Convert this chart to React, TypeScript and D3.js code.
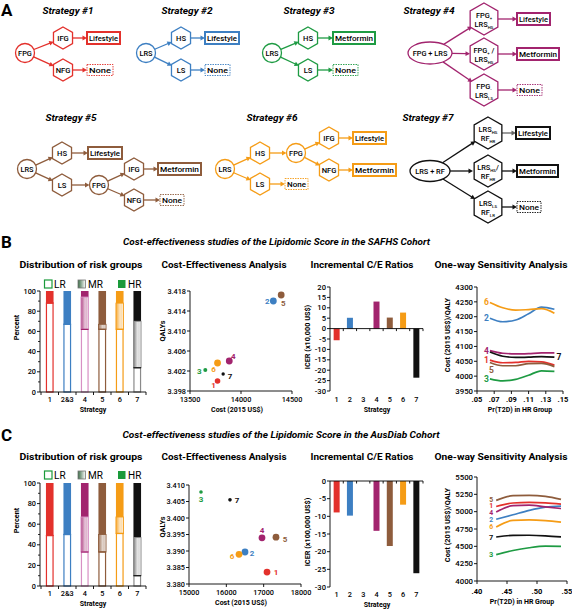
import React from 'react';
import * as d3 from 'd3';

const FONT = "Roboto, 'Liberation Sans', Arial, sans-serif";

// ---------- shared categories ----------
const stratNames = ['1', '2', '3', '4', '5', '6', '7'];
const stratColors = ['#e3312c', '#3d7fc2', '#1e9b43', '#a2246e', '#8e5c3c', '#f59c16', '#111111'];

// ---------- distribution of risk groups (percent) ----------
const barCats = ['1', '2&3', '4', '5', '6', '7'];
const barCatColors = ['#e3312c', '#3d7fc2', '#a2246e', '#8e5c3c', '#f59c16', '#111111'];
const barCatOutline = ['#e3312c', '#3d7fc2', '#d890c4', '#8e5c3c', '#f59c16', '#8a8a8a'];
const safhsLR = [88, 67, 62, 62, 62, 24];
const safhsMR = [0, 0, 32, 5, 26, 46];
const safhsHR = [12, 33, 6, 33, 12, 30];
const ausLR = [49, 50, 33, 33, 51, 10];
const ausMR = [0, 0, 34, 17, 16, 37];
const ausHR = [51, 50, 33, 50, 33, 53];
const barTicks = [0, 20, 40, 60, 80, 100];

// ---------- cost-effectiveness (cost US$, QALYs) ----------
const safhsCost = [13770, 14317, 13650, 13885, 14394, 13770, 13825];
const safhsQaly = [3.4000, 3.4160, 3.4022, 3.4040, 3.4172, 3.4036, 3.4014];
const ausCost = [17090, 16500, 15321, 16955, 17330, 16340, 16098];
const ausQaly = [3.3836, 3.3897, 3.4079, 3.3940, 3.3942, 3.3890, 3.4055];
const safhsCostTicks = [13500, 14000, 14500];
const safhsQalyTicks = [3.398, 3.402, 3.406, 3.410, 3.414, 3.418];
const ausCostTicks = [15000, 16000, 17000, 18000];
const ausQalyTicks = [3.380, 3.385, 3.390, 3.395, 3.400, 3.405, 3.410];

// ---------- ICER ----------
const safhsIcer = [-5.6, 5.2, null, 13.0, 5.3, 7.7, -23.6];
const ausIcer = [-8.9, -9.8, null, -14.1, -18.4, -6.7, -26.1];
const safhsIcerTicks = [20, 15, 10, 5, 0, -5, -10, -15, -20, -25, -30];
const ausIcerTicks = [0, -5, -10, -15, -20, -25, -30];

// ---------- one-way sensitivity ----------
const safhsPr = [0.065, 0.08, 0.095, 0.11, 0.125, 0.14];
const safhsSens = [
  [4054, 4045, 4046, 4050, 4048, 4037], // 1
  [4195, 4183, 4189, 4210, 4232, 4225], // 2
  [3991, 3984, 3989, 4003, 4018, 4016], // 3
  [4086, 4077, 4075, 4076, 4078, 4078], // 4
  [4046, 4035, 4035, 4042, 4043, 4032], // 5
  [4248, 4230, 4222, 4224, 4227, 4212], // 6
  [4081, 4067, 4063, 4064, 4066, 4064], // 7
];
const ausPr = [0.432, 0.46, 0.487, 0.514, 0.54];
const ausSens = [
  [5075, 5125, 5135, 5128, 5110], // 1
  [4890, 4955, 5018, 5065, 5080], // 2
  [4380, 4440, 4480, 4502, 4500], // 3
  [4995, 5088, 5095, 5068, 5045], // 4
  [5163, 5230, 5235, 5220, 5178], // 5
  [4778, 4875, 4882, 4872, 4850], // 6
  [4635, 4658, 4660, 4652, 4636], // 7
];
const safhsPrTicks = [0.05, 0.07, 0.09, 0.11, 0.13, 0.15];
const safhsSensTicks = [3950, 4000, 4050, 4100, 4150, 4200, 4250, 4300];
const ausPrTicks = [0.40, 0.45, 0.50, 0.55];
const ausSensTicks = [4000, 4250, 4500, 4750, 5000, 5250, 5500];

// ---------------- diagram helpers ----------------
type P = { x: number; y: number };

function Arrow({ a, b, color, s = 0, e = 0, w = 1.3 }: any) {
  const dx = b.x - a.x, dy = b.y - a.y;
  const L = Math.hypot(dx, dy);
  const ux = dx / L, uy = dy / L;
  let so = 0;
  if (typeof s === 'number') so = s;
  else so = 1 / Math.sqrt((ux / s.rx) ** 2 + (uy / s.ry) ** 2);
  const sx = a.x + ux * so, sy = a.y + uy * so;
  const ex = b.x - ux * e, ey = b.y - uy * e;
  const hl = 4.5, hw = 2.4;
  const bx = ex - ux * hl, by = ey - uy * hl;
  return (
    <g>
      <line x1={sx} y1={sy} x2={bx + ux * 0.5} y2={by + uy * 0.5} stroke={color} strokeWidth={w} />
      <polygon points={`${ex},${ey} ${bx - uy * hw},${by + ux * hw} ${bx + uy * hw},${by - ux * hw}`} fill={color} />
    </g>
  );
}

function Circ({ p, label, color, r = 9.5 }: any) {
  return (
    <g>
      <circle cx={p.x} cy={p.y} r={r} fill="#fff" stroke={color} strokeWidth={1.3} />
      <text x={p.x} y={p.y} dy="0.35em" textAnchor="middle" fontSize={7.4} fontWeight={500}>{label}</text>
    </g>
  );
}

function hexPts(cx: number, cy: number, r: number) {
  return d3.range(6).map((i) => {
    const a = (Math.PI / 180) * (60 * i - 90);
    return `${cx + r * Math.cos(a)},${cy + r * Math.sin(a)}`;
  }).join(' ');
}

function Hex({ p, label, color, r = 11 }: any) {
  return (
    <g>
      <polygon points={hexPts(p.x, p.y, r)} fill="#fff" stroke={color} strokeWidth={1.3} />
      {label && <text x={p.x} y={p.y} dy="0.35em" textAnchor="middle" fontSize={7.6} fontWeight={500}>{label}</text>}
    </g>
  );
}

function SubText({ x, y, main, sub, tail }: any) {
  return (
    <text x={x} y={y} textAnchor="middle" fontSize={7.4} fontWeight={500}>
      {main}
      <tspan fontSize={4.3} dy={2}>{sub}</tspan>
      {tail && <tspan dy={-2}>{tail}</tspan>}
    </text>
  );
}

function BigHex({ p, color, l1, l2 }: any) {
  return (
    <g>
      <polygon points={hexPts(p.x, p.y, 16)} fill="#fff" stroke={color} strokeWidth={1.3} />
      <SubText x={p.x} y={p.y - 1.5} main={l1[0]} sub={l1[1]} tail={l1[2]} />
      <SubText x={p.x} y={p.y + 8} main={l2[0]} sub={l2[1]} tail={l2[2]} />
    </g>
  );
}

function Box({ x, y, w, h, label, color, dashed }: any) {
  return (
    <g>
      <rect x={x} y={y} width={w} height={h} fill="#fff" stroke={color}
        strokeWidth={dashed ? 0.9 : 2} strokeDasharray={dashed ? '1.5,1' : undefined} />
      <text x={x + w / 2} y={y + h / 2} dy="0.35em" textAnchor="middle" fontSize={7.8} fontWeight={500}
        textLength={w - 4} lengthAdjust="spacingAndGlyphs">{label}</text>
    </g>
  );
}

function Ell({ p, rx, ry, label, color }: any) {
  return (
    <g>
      <ellipse cx={p.x} cy={p.y} rx={rx} ry={ry} fill="#fff" stroke={color} strokeWidth={1.3} />
      <text x={p.x} y={p.y} dy="0.35em" textAnchor="middle" fontSize={7.4} fontWeight={500}>{label}</text>
    </g>
  );
}

function STitle({ x, y, n }: any) {
  return (
    <text x={x} y={y} textAnchor="middle" fontSize={8.5} fontWeight="bold" fontStyle="italic"
      textLength={51} lengthAdjust="spacingAndGlyphs">{`Strategy #${n}`}</text>
  );
}

const pt = (x: number, y: number): P => ({ x, y });

function PanelA() {
  const [c1, c2, c3, c4, c5, c6, c7] = stratColors;
  const s1 = { a: pt(25, 53), h1: pt(63, 38), h2: pt(63, 70) };
  const s2 = { a: pt(146, 53), h1: pt(181, 38), h2: pt(181, 70) };
  const s3 = { a: pt(272, 53), h1: pt(308, 38), h2: pt(308, 70) };
  const s4 = { a: pt(430, 53), h1: pt(484, 19), h2: pt(484, 54), h3: pt(484, 90) };
  const s5 = { a: pt(27, 169), hs: pt(62, 153), ls: pt(62, 185), f: pt(99, 185), i: pt(134, 169), n: pt(134, 200) };
  const s6 = { a: pt(225, 169), hs: pt(260, 153), ls: pt(260, 184), f: pt(296, 153), i: pt(329, 138), n: pt(329, 170) };
  const s7 = { a: pt(430, 171), h1: pt(488, 133), h2: pt(488, 171), h3: pt(488, 207) };
  const ell4 = { rx: 22, ry: 11 };
  const ell7 = { rx: 20, ry: 10.5 };
  return (
    <g>
      <text x={1} y={16} fontSize={17} fontWeight="bold">A</text>
      <STitle x={68} y={14} n={1} />
      <STitle x={187} y={14} n={2} />
      <STitle x={309} y={14} n={3} />
      <STitle x={429} y={14} n={4} />
      <STitle x={71} y={121} n={5} />
      <STitle x={272} y={121} n={6} />
      <STitle x={428} y={121} n={7} />

      {/* Strategy 1 */}
      <Arrow a={s1.a} b={s1.h1} color={c1} s={9.5} e={10} />
      <Arrow a={s1.a} b={s1.h2} color={c1} s={9.5} e={10} />
      <Arrow a={s1.h1} b={pt(87, 38)} color={c1} s={9.5} />
      <Arrow a={s1.h2} b={pt(87, 70)} color={c1} s={9.5} />
      <Circ p={s1.a} label="FPG" color={c1} />
      <Hex p={s1.h1} label="IFG" color={c1} />
      <Hex p={s1.h2} label="NFG" color={c1} />
      <Box x={87} y={32} w={33} h={12} label="Lifestyle" color={c1} />
      <Box x={87} y={64.5} w={26} h={11} label="None" color={c1} dashed />

      {/* Strategy 2 */}
      <Arrow a={s2.a} b={s2.h1} color={c2} s={9.5} e={10} />
      <Arrow a={s2.a} b={s2.h2} color={c2} s={9.5} e={10} />
      <Arrow a={s2.h1} b={pt(205, 38)} color={c2} s={9.5} />
      <Arrow a={s2.h2} b={pt(205, 70)} color={c2} s={9.5} />
      <Circ p={s2.a} label="LRS" color={c2} />
      <Hex p={s2.h1} label="HS" color={c2} />
      <Hex p={s2.h2} label="LS" color={c2} />
      <Box x={205} y={32} w={34} h={12} label="Lifestyle" color={c2} />
      <Box x={205} y={64.5} w={25} h={11} label="None" color={c2} dashed />

      {/* Strategy 3 */}
      <Arrow a={s3.a} b={s3.h1} color={c3} s={9.5} e={10} />
      <Arrow a={s3.a} b={s3.h2} color={c3} s={9.5} e={10} />
      <Arrow a={s3.h1} b={pt(333, 38)} color={c3} s={9.5} />
      <Arrow a={s3.h2} b={pt(333, 70)} color={c3} s={9.5} />
      <Circ p={s3.a} label="LRS" color={c3} />
      <Hex p={s3.h1} label="HS" color={c3} />
      <Hex p={s3.h2} label="LS" color={c3} />
      <Box x={333} y={32} w={42} h={12} label="Metformin" color={c3} />
      <Box x={333} y={64.5} w={25} h={11} label="None" color={c3} dashed />

      {/* Strategy 4 */}
      <Arrow a={s4.a} b={s4.h1} color={c4} s={ell4} e={14} />
      <Arrow a={s4.a} b={s4.h2} color={c4} s={ell4} e={14} />
      <Arrow a={s4.a} b={s4.h3} color={c4} s={ell4} e={14} />
      <Arrow a={s4.h1} b={pt(517, 19)} color={c4} s={14} />
      <Arrow a={s4.h2} b={pt(517, 54)} color={c4} s={14} />
      <Arrow a={s4.h3} b={pt(517, 90)} color={c4} s={14} />
      <Ell p={s4.a} rx={22} ry={11} label="FPG + LRS" color={c4} />
      <BigHex p={s4.h1} color={c4} l1={['FPG', '+']} l2={['LRS', 'HS']} />
      <BigHex p={s4.h2} color={c4} l1={['FPG', '+', ' /']} l2={['LRS', 'HS']} />
      <BigHex p={s4.h3} color={c4} l1={['FPG', '-']} l2={['LRS', 'LS']} />
      <Box x={517} y={13} w={33} h={12} label="Lifestyle" color={c4} />
      <Box x={517} y={48} w={42} h={12} label="Metformin" color={c4} />
      <Box x={517} y={84.5} w={25} h={11} label="None" color={c4} dashed />

      {/* Strategy 5 */}
      <Arrow a={s5.a} b={s5.hs} color={c5} s={9.5} e={10} />
      <Arrow a={s5.a} b={s5.ls} color={c5} s={9.5} e={10} />
      <Arrow a={s5.hs} b={pt(88, 153)} color={c5} s={9.5} />
      <Arrow a={s5.ls} b={s5.f} color={c5} s={9.5} e={9.5} />
      <Arrow a={s5.f} b={s5.i} color={c5} s={9.5} e={10} />
      <Arrow a={s5.f} b={s5.n} color={c5} s={9.5} e={10} />
      <Arrow a={s5.i} b={pt(158, 169)} color={c5} s={9.5} />
      <Arrow a={s5.n} b={pt(160, 200)} color={c5} s={9.5} />
      <Circ p={s5.a} label="LRS" color={c5} />
      <Hex p={s5.hs} label="HS" color={c5} />
      <Hex p={s5.ls} label="LS" color={c5} />
      <Circ p={s5.f} label="FPG" color={c5} />
      <Hex p={s5.i} label="IFG" color={c5} />
      <Hex p={s5.n} label="NFG" color={c5} />
      <Box x={88} y={147} w={34} h={12} label="Lifestyle" color={c5} />
      <Box x={158} y={163} w={43} h={12} label="Metformin" color={c5} />
      <Box x={160} y={194.5} w={24} h={11} label="None" color={c5} dashed />

      {/* Strategy 6 */}
      <Arrow a={s6.a} b={s6.hs} color={c6} s={9.5} e={10} />
      <Arrow a={s6.a} b={s6.ls} color={c6} s={9.5} e={10} />
      <Arrow a={s6.hs} b={s6.f} color={c6} s={9.5} e={9.5} />
      <Arrow a={s6.f} b={s6.i} color={c6} s={9.5} e={10} />
      <Arrow a={s6.f} b={s6.n} color={c6} s={9.5} e={10} />
      <Arrow a={s6.i} b={pt(353, 138)} color={c6} s={9.5} />
      <Arrow a={s6.n} b={pt(353, 170)} color={c6} s={9.5} />
      <Arrow a={s6.ls} b={pt(285, 184)} color={c6} s={9.5} />
      <Circ p={s6.a} label="LRS" color={c6} />
      <Hex p={s6.hs} label="HS" color={c6} />
      <Hex p={s6.ls} label="LS" color={c6} />
      <Circ p={s6.f} label="FPG" color={c6} />
      <Hex p={s6.i} label="IFG" color={c6} />
      <Hex p={s6.n} label="NFG" color={c6} />
      <Box x={353} y={132} w={33} h={12} label="Lifestyle" color={c6} />
      <Box x={353} y={164} w={43} h={12} label="Metformin" color={c6} />
      <Box x={285} y={178.5} w={23} h={11} label="None" color={c6} dashed />

      {/* Strategy 7 */}
      <Arrow a={s7.a} b={s7.h1} color={c7} s={ell7} e={15} />
      <Arrow a={s7.a} b={s7.h2} color={c7} s={ell7} e={15} />
      <Arrow a={s7.a} b={s7.h3} color={c7} s={ell7} e={15} />
      <Arrow a={s7.h1} b={pt(516, 133)} color="#666" s={14} />
      <Arrow a={s7.h2} b={pt(517, 171)} color={c7} s={14} />
      <Arrow a={s7.h3} b={pt(517, 207)} color={c7} s={14} />
      <Ell p={s7.a} rx={20} ry={10.5} label="LRS + RF" color={c7} />
      <BigHex p={s7.h1} color={c7} l1={['LRS', 'HS']} l2={['RF', 'HR']} />
      <BigHex p={s7.h2} color={c7} l1={['LRS', 'HS', '/']} l2={['RF', 'HR']} />
      <BigHex p={s7.h3} color={c7} l1={['LRS', 'LS']} l2={['RF', 'LR']} />
      <Box x={516} y={127} w={34} h={12} label="Lifestyle" color={c7} />
      <Box x={517} y={165} w={41} h={12} label="Metformin" color={c7} />
      <Box x={517} y={201.5} w={24} h={11} label="None" color={c7} dashed />
    </g>
  );
}

// ---------------- chart helpers ----------------
function LeftAxis({ x, scale, ticks, fmt, fs = 7.3, minor = [] as number[] }: any) {
  const [a, b] = scale.range();
  return (
    <g>
      <line x1={x} x2={x} y1={a} y2={b} stroke="#000" strokeWidth={0.9} />
      {ticks.map((t: number) => (
        <g key={t}>
          <line x1={x - 3} x2={x} y1={scale(t)} y2={scale(t)} stroke="#000" strokeWidth={0.9} />
          <text x={x - 4} y={scale(t)} dy="0.35em" textAnchor="end" fontSize={fs} fontWeight={500}>{fmt(t)}</text>
        </g>
      ))}
      {minor.map((t: number) => (
        <line key={'m' + t} x1={x - 2} x2={x} y1={scale(t)} y2={scale(t)} stroke="#000" strokeWidth={0.8} />
      ))}
    </g>
  );
}

function BottomAxis({ y, scale, ticks, fmt, fs = 7.3, labelY, bold = false }: any) {
  const [a, b] = scale.range();
  return (
    <g>
      <line x1={a} x2={b} y1={y} y2={y} stroke="#000" strokeWidth={0.9} />
      {ticks.map((t: number) => (
        <g key={t}>
          <line x1={scale(t)} x2={scale(t)} y1={y} y2={y + 3} stroke="#000" strokeWidth={0.9} />
          <text x={scale(t)} y={labelY} textAnchor="middle" fontSize={fs} fontWeight={bold ? 'bold' : 500}>{fmt(t)}</text>
        </g>
      ))}
    </g>
  );
}

function VLabel({ x, y, text, fs = 7.3 }: any) {
  return (
    <text transform={`translate(${x},${y}) rotate(-90)`} textAnchor="middle" fontSize={fs} fontWeight="bold">{text}</text>
  );
}

function RiskBars({ bottom, top, LR, MR, HR, gid, xLabelY }: any) {
  const x = d3.scaleBand<string>().domain(barCats).range([41, 146]);
  const y = d3.scaleLinear().domain([0, 100]).range([bottom, top]);
  const bw = 7.6;
  return (
    <g>
      {barCats.map((c, i) => {
        const cx = (x(c) as number) + x.bandwidth() / 2;
        const x0 = cx - bw / 2;
        const lr = LR[i], mr = MR[i], hr = HR[i];
        return (
          <g key={c}>
            <rect x={x0} y={y(100)} width={bw} height={y(100 - hr) - y(100)} fill={barCatColors[i]} />
            {mr > 0 && (
              <rect x={x0} y={y(lr + mr)} width={bw} height={y(lr) - y(lr + mr)} fill={`url(#${gid}${i})`}
                stroke={barCatOutline[i]} strokeWidth={0.9} />
            )}
            <rect x={x0 + 0.5} y={y(lr)} width={bw - 1} height={y(0) - y(lr)} fill="#fff"
              stroke={barCatOutline[i]} strokeWidth={1.2} />
            <line x1={x0} x2={x0 + bw} y1={y(lr)} y2={y(lr)} stroke={barCatColors[i]} strokeWidth={1.2} />
          </g>
        );
      })}
      <LeftAxis x={40} scale={y} ticks={barTicks} fmt={(d: number) => String(d)} minor={[10, 30, 50, 70, 90]} />
      <line x1={40} x2={146} y1={bottom} y2={bottom} stroke="#000" strokeWidth={0.9} />
      {d3.range(7).map((k) => (
        <line key={k} x1={41 + k * x.step()} x2={41 + k * x.step()} y1={bottom} y2={bottom + 3} stroke="#000" strokeWidth={0.9} />
      ))}
      {barCats.map((c) => (
        <text key={c} x={(x(c) as number) + x.bandwidth() / 2} y={xLabelY} textAnchor="middle" fontSize={7.3} fontWeight={500}>{c}</text>
      ))}
      <text x={93} y={xLabelY + 10} textAnchor="middle" fontSize={7} fontWeight="bold">Strategy</text>
      <VLabel x={19} y={(top + bottom) / 2 - 14} text="Percent" />
    </g>
  );
}

function CEA({ cost, qaly, xr, yr, xd, yd, xt, yt, yfmt, sizes, offs, xLabelY }: any) {
  const x = d3.scaleLinear().domain(xd).range(xr);
  const y = d3.scaleLinear().domain(yd).range(yr);
  return (
    <g>
      <LeftAxis x={xr[0]} scale={y} ticks={yt} fmt={yfmt} />
      <BottomAxis y={yr[0]} scale={x} ticks={xt} fmt={(d: number) => String(d)} labelY={xLabelY} />
      {stratNames.map((s, i) => (
        <g key={s}>
          <circle cx={x(cost[i])} cy={y(qaly[i])} r={sizes[i]} fill={stratColors[i]} />
          <text x={x(cost[i]) + offs[i][0]} y={y(qaly[i]) + offs[i][1]} dy="0.35em" textAnchor="middle"
            fontSize={8} fontWeight="bold" fill={stratColors[i]}>{s}</text>
        </g>
      ))}
      <text x={(xr[0] + xr[1]) / 2 - 4} y={xLabelY + 10} textAnchor="middle" fontSize={7} fontWeight="bold">Cost (2015 US$)</text>
    </g>
  );
}

function Icer({ vals, yd, yr, ticks, xLabelY, label }: any) {
  const x = d3.scaleBand<string>().domain(stratNames).range([330, 423]);
  const y = d3.scaleLinear().domain(yd).range(yr);
  const bw = 6;
  return (
    <g>
      {stratNames.map((s, i) => {
        const v = vals[i];
        if (v == null) return null;
        const cx = (x(s) as number) + x.bandwidth() / 2;
        return (
          <rect key={s} x={cx - bw / 2} y={Math.min(y(v), y(0))} width={bw} height={Math.abs(y(v) - y(0))} fill={stratColors[i]} />
        );
      })}
      <LeftAxis x={330} scale={y} ticks={ticks} fmt={(d: number) => String(d)} fs={7.6} />
      <line x1={330} x2={423} y1={y(0)} y2={y(0)} stroke="#000" strokeWidth={0.9} />
      {d3.range(1, 8).map((k) => (
        <line key={k} x1={330 + k * x.step()} x2={330 + k * x.step()} y1={y(0)} y2={y(0) + 2.5} stroke="#000" strokeWidth={0.9} />
      ))}
      {stratNames.map((s) => (
        <text key={s} x={(x(s) as number) + x.bandwidth() / 2} y={xLabelY} textAnchor="middle" fontSize={7.3} fontWeight={500}>{s}</text>
      ))}
      <text x={377} y={xLabelY + 10} textAnchor="middle" fontSize={7} fontWeight="bold">Strategy</text>
      <VLabel x={310} y={(yr[0] + yr[1]) / 2 - 2} text={label} fs={7.3} />
    </g>
  );
}

function Sens({ pr, series, xd, xr, yd, yr, xt, yt, xfmt, xLabelY, labelPos }: any) {
  const x = d3.scaleLinear().domain(xd).range(xr);
  const y = d3.scaleLinear().domain(yd).range(yr);
  const line = d3.line<number>().x((_, j) => x(pr[j])).y((d) => y(d)).curve(d3.curveMonotoneX);
  return (
    <g>
      <LeftAxis x={xr[0]} scale={y} ticks={yt} fmt={(d: number) => String(d)} fs={7.8} />
      <BottomAxis y={yr[0]} scale={x} ticks={xt} fmt={xfmt} labelY={xLabelY} fs={7.5} bold />
      {series.map((s: number[], i: number) => (
        <path key={i} d={line(s) as string} fill="none" stroke={stratColors[i]} strokeWidth={1.7} />
      ))}
      {series.map((s: number[], i: number) => {
        const lp = labelPos[i];
        const last = lp[0] === 'end';
        const j = last ? s.length - 1 : 0;
        return (
          <text key={'l' + i} x={x(pr[j]) + lp[1]} y={y(s[j]) + lp[2]} dy="0.35em" textAnchor={last ? 'start' : 'end'}
            fontSize={lp[3] || 8.5} fontWeight="bold" fill={stratColors[i]}>{stratNames[i]}</text>
        );
      })}
      <text x={(xr[0] + xr[1]) / 2} y={xLabelY + 10} textAnchor="middle" fontSize={7} fontWeight="bold">Pr(T2D) in HR Group</text>
      <VLabel x={450} y={(yr[0] + yr[1]) / 2 - 4} text="Cost (2015 US$)/QALY" fs={7.3} />
    </g>
  );
}

function Legend({ y, gid }: any) {
  const g = '#1a9a3a';
  return (
    <g fontSize={10}>
      <rect x={44.5} y={y - 8} width={7.5} height={8} fill="#fff" stroke={g} strokeWidth={1.2} />
      <text x={54} y={y}>LR</text>
      <rect x={78} y={y - 8} width={7.5} height={8} fill={`url(#${gid})`} stroke="#777" strokeWidth={0.8} />
      <text x={88} y={y}>MR</text>
      <rect x={118} y={y - 8} width={7.5} height={8} fill={g} />
      <text x={128} y={y}>HR</text>
    </g>
  );
}

function Subtitles({ y }: any) {
  const items = [
    ['Distribution of risk groups', 81, 123],
    ['Cost-Effectiveness Analysis', 224, 125],
    ['Incremental C/E Ratios', 362, 103],
    ['One-way Sensitivity Analysis', 501, 133],
  ];
  return (
    <g>
      {items.map(([t, cx, w]: any) => (
        <text key={t} x={cx} y={y} textAnchor="middle" fontSize={9.5} fontWeight="bold"
          textLength={w} lengthAdjust="spacingAndGlyphs">{t}</text>
      ))}
    </g>
  );
}

const safhsSizes = [2.8, 3.4, 2, 3.4, 3.4, 3.4, 1.7];
const safhsOffs = [[-4, 4], [-6, 0], [-6, 1], [4, -5], [2, 8], [-4, 6], [7, 2]];
const ausSizes = [3.4, 3.4, 1.8, 3.4, 3.4, 3.4, 1.8];
const ausOffs = [[9, 0], [7, 1], [0, 7], [0, -8], [9, 2], [-7, 2], [7, 0]];
const safhsLabelPos = [['start', -1, 0], ['start', -1, 0], ['start', -1, 0], ['start', -1, 0], ['start', 4, 8], ['start', -1, 0], ['end', 2, 0]];
const ausLabelPos = [['start', -3, -0.5, 6.8], ['start', -3, 0.3, 6.8], ['start', -3, 0, 7.4], ['start', -3, 0.7, 6.8], ['start', -3, -1.2, 6.8], ['start', -3, -0.7, 6.8], ['start', -3, 0, 7.4]];

export default function App() {
  return (
    <svg width={572} height={609} viewBox="0 0 572 609"
      style={{ position: 'absolute', left: 0, top: 0, background: '#fff' }} fontFamily={FONT}>
      <defs>
        {['b', 'c'].map((p) =>
          barCatColors.map((c, i) => (
            <linearGradient key={p + i} id={`${p}grad${i}`} x1="0" x2="1" y1="0" y2="0">
              <stop offset="0%" stopColor={i === 5 ? '#555' : c} stopOpacity={0.85} />
              <stop offset="55%" stopColor={i === 5 ? '#999' : c} stopOpacity={0.25} />
              <stop offset="100%" stopColor="#fff" stopOpacity={1} />
            </linearGradient>
          ))
        )}
        <linearGradient id="legGrad" x1="0" x2="1" y1="0" y2="0">
          <stop offset="0%" stopColor="#3a6a45" />
          <stop offset="100%" stopColor="#fff" />
        </linearGradient>
      </defs>
      <rect x={0} y={0} width={572} height={609} fill="#fff" />
      <PanelA />

      {/* Panel B */}
      <text x={1} y={248} fontSize={17} fontWeight="bold">B</text>
      <text x={276.5} y={245} textAnchor="middle" fontSize={9.5} fontWeight="bold" fontStyle="italic"
        textLength={307} lengthAdjust="spacingAndGlyphs">Cost-effectiveness studies of the Lipidomic Score in the SAFHS Cohort</text>
      <Subtitles y={268} />
      <Legend y={288} gid="legGrad" />
      <RiskBars bottom={392} top={291} LR={safhsLR} MR={safhsMR} HR={safhsHR} gid="bgrad" xLabelY={402} />
      <CEA cost={safhsCost} qaly={safhsQaly} xr={[190, 292]} yr={[391, 291]} xd={[13500, 14500]} yd={[3.398, 3.418]}
        xt={safhsCostTicks} yt={safhsQalyTicks} yfmt={d3.format('.3f')} sizes={safhsSizes} offs={safhsOffs} xLabelY={402} />
      <VLabel x={165} y={331} text="QALYs" />
      <Icer vals={safhsIcer} yd={[-30, 20]} yr={[391, 287]} ticks={safhsIcerTicks} xLabelY={402} label="ICER (x10,000 US$)" />
      <Sens pr={safhsPr} series={safhsSens} xd={[0.05, 0.15]} xr={[477, 563]} yd={[3950, 4300]} yr={[391, 287]}
        xt={safhsPrTicks} yt={safhsSensTicks} xfmt={(d: number) => d3.format('.2f')(d).replace(/^0/, '')} xLabelY={402}
        labelPos={safhsLabelPos} />

      {/* Panel C */}
      <text x={1} y={441} fontSize={17} fontWeight="bold">C</text>
      <text x={281} y={438} textAnchor="middle" fontSize={9.5} fontWeight="bold" fontStyle="italic"
        textLength={317} lengthAdjust="spacingAndGlyphs">Cost-effectiveness studies of the Lipidomic Score in the AusDiab Cohort</text>
      <Subtitles y={460} />
      <Legend y={479} gid="legGrad" />
      <RiskBars bottom={586} top={483} LR={ausLR} MR={ausMR} HR={ausHR} gid="cgrad" xLabelY={596} />
      <CEA cost={ausCost} qaly={ausQaly} xr={[189, 301]} yr={[584, 485]} xd={[15000, 18000]} yd={[3.380, 3.410]}
        xt={ausCostTicks} yt={ausQalyTicks} yfmt={d3.format('.3f')} sizes={ausSizes} offs={ausOffs} xLabelY={595} />
      <VLabel x={165} y={527} text="QALYs" />
      <Icer vals={ausIcer} yd={[-30, 0]} yr={[587, 481]} ticks={ausIcerTicks} xLabelY={597} label="ICER (x100,000 US$)" />
      <Sens pr={ausPr} series={ausSens} xd={[0.40, 0.55]} xr={[477, 567]} yd={[4000, 5500]} yr={[581, 477]}
        xt={ausPrTicks} yt={ausSensTicks} xfmt={(d: number) => d3.format('.2f')(d).replace(/^0/, '')} xLabelY={594}
        labelPos={ausLabelPos} />
    </svg>
  );
}
